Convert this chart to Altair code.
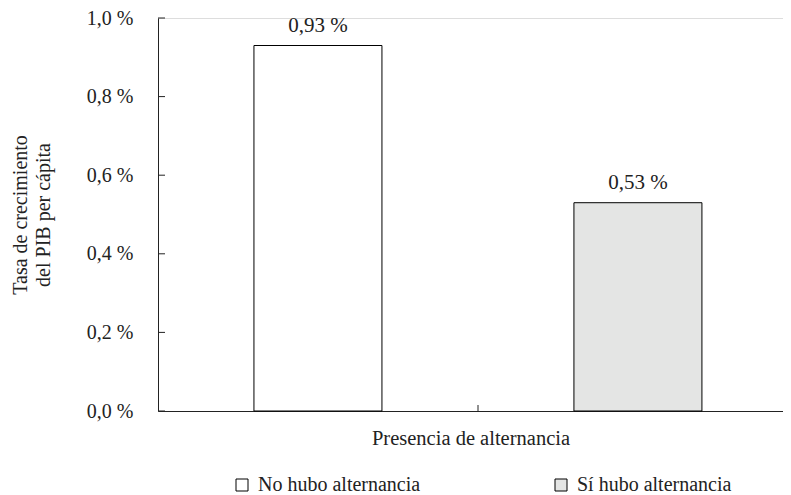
import altair as alt
import pandas as pd

categorias = ["No hubo alternancia", "Sí hubo alternancia"]
tasas = [0.93, 0.53]
colores = ["#ffffff", "#e4e5e4"]
y_ticks = [0.0, 0.2, 0.4, 0.6, 0.8, 1.0]

W, H = 625, 393
FONT = "Liberation Serif, Times New Roman, Times, DejaVu Serif, serif"
INK = "#222222"

df = pd.DataFrame({"cat": categorias, "v": tasas})
ticks_df = pd.DataFrame({"t": y_ticks})
center_df = pd.DataFrame({"c": [0]})

xscale = alt.Scale(domain=categorias, paddingInner=0.6, paddingOuter=0.2766, align=0.542)
yscale = alt.Scale(domain=[0, 1])

x_axis = alt.Axis(
    title="Presencia de alternancia", labels=False, ticks=False,
    domain=True, domainColor=INK, titlePadding=17,
)
y_axis = alt.Axis(
    title=["Tasa de crecimiento", "del PIB per cápita"],
    values=y_ticks,
    labelExpr="replace(format(datum.value, '.1f'), '.', ',') + ' %'",
    ticks=False, labelPadding=25, grid=False,
    titleLineHeight=23, titleX=-148, titleY=H / 2, titleBaseline="top",
)

bars = alt.Chart(df).mark_bar(stroke="#000000", strokeWidth=1, opacity=1).encode(
    x=alt.X("cat:N", scale=xscale, sort=categorias, axis=x_axis),
    y=alt.Y("v:Q", scale=yscale, axis=y_axis),
    color=alt.Color(
        "cat:N",
        scale=alt.Scale(domain=categorias, range=colores),
        legend=alt.Legend(
            title=None, orient="none", legendX=74, legendY=457,
            direction="horizontal", symbolType="square", symbolSize=144,
            symbolStrokeColor="#000000", symbolStrokeWidth=1, symbolOpacity=1,
            labelFont=FONT, labelFontSize=20, labelColor=INK, labelOffset=6,
            columnPadding=130, labelLimit=400,
        ),
    ),
)

labels = alt.Chart(df).transform_calculate(
    lab="replace(format(datum.v, '.2f'), '.', ',') + ' %'"
).mark_text(
    dy=-14, baseline="alphabetic", font=FONT, fontSize=21, color=INK
).encode(
    x=alt.X("cat:N", scale=xscale, sort=categorias, axis=x_axis),
    y=alt.Y("v:Q", scale=yscale, axis=y_axis),
    text="lab:N",
)

yticks = alt.Chart(ticks_df).mark_rule(color=INK, strokeWidth=1).encode(
    y=alt.Y("t:Q", scale=yscale, axis=y_axis),
    x=alt.value(0),
    x2=alt.value(7),
)

center_tick = alt.Chart(center_df).mark_rule(color=INK, strokeWidth=1).encode(
    x=alt.value(320),
    y=alt.value(H),
    y2=alt.value(H - 6),
)

chart = alt.layer(bars, labels, yticks, center_tick).properties(
    width=W, height=H,
    padding={"left": 150, "top": 10, "right": 0, "bottom": 84},
    autosize=alt.AutoSizeParams(type="none"),
).configure_view(stroke=None).configure(background="white").configure_axis(
    labelFont=FONT, labelFontSize=20, labelColor=INK, domainColor=INK,
    titleFont=FONT, titleFontWeight="normal", titleColor=INK,
).configure_axisY(titleFontSize=20, titleAngle=270, titleAlign="center").configure_axisX(
    titleFontSize=20.5
)

chart.save("out.html", embed_options={"renderer": "svg", "actions": False})
